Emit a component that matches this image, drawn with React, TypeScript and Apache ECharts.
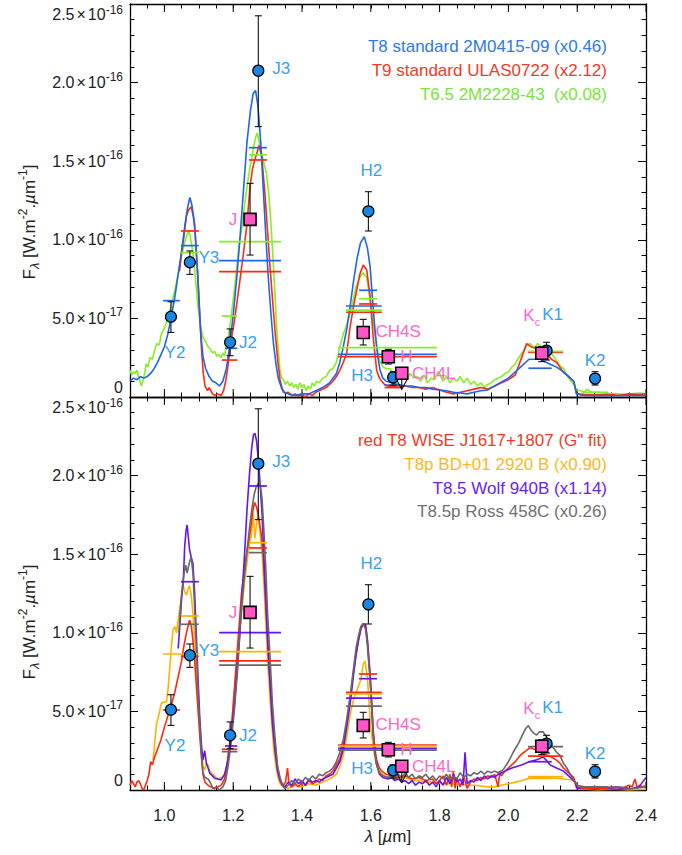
import React, { useEffect, useRef } from 'react';
import * as echarts from 'echarts';

// ---------- DATA (flux in units of 1e-16 W m^-2 um^-1, wavelength in um) ----------
const t8Std = [[0.90,0.10],[0.91,0.12],[0.92,0.11],[0.93,0.13],[0.94,0.12],[0.95,0.13],[0.96,0.15],[0.97,0.18],[0.98,0.22],[0.99,0.27],[1.00,0.32],[1.01,0.40],[1.02,0.51],[1.03,0.63],[1.04,0.78],[1.05,0.93],[1.06,1.10],[1.067,1.20],[1.074,1.27],[1.08,1.22],[1.088,1.10],[1.094,0.88],[1.10,0.64],[1.106,0.40],[1.112,0.26],[1.12,0.18],[1.13,0.13],[1.14,0.10],[1.15,0.09],[1.16,0.07],[1.17,0.10],[1.18,0.18],[1.185,0.25],[1.19,0.33],[1.20,0.52],[1.21,0.75],[1.22,1.02],[1.23,1.32],[1.24,1.62],[1.25,1.82],[1.258,1.93],[1.265,1.95],[1.272,1.85],[1.28,1.62],[1.288,1.30],[1.295,1.02],[1.302,0.76],[1.31,0.52],[1.317,0.34],[1.325,0.20],[1.331,0.12],[1.34,0.06],[1.346,0.03],[1.36,0.02],[1.38,0.01],[1.40,0.02],[1.42,0.02],[1.44,0.04],[1.46,0.06],[1.48,0.09],[1.50,0.15],[1.51,0.22],[1.52,0.32],[1.53,0.43],[1.54,0.58],[1.55,0.74],[1.56,0.88],[1.57,0.98],[1.581,1.02],[1.59,0.95],[1.598,0.83],[1.605,0.62],[1.612,0.43],[1.62,0.26],[1.627,0.17],[1.635,0.12],[1.645,0.10],[1.66,0.09],[1.68,0.08],[1.70,0.07],[1.72,0.07],[1.74,0.06],[1.76,0.06],[1.78,0.05],[1.80,0.045],[1.82,0.04],[1.84,0.03],[1.86,0.025],[1.88,0.02],[1.90,0.03],[1.92,0.04],[1.94,0.045],[1.96,0.07],[1.98,0.095],[2.00,0.12],[2.02,0.16],[2.04,0.20],[2.06,0.24],[2.08,0.24],[2.09,0.245],[2.10,0.23],[2.12,0.21],[2.14,0.19],[2.16,0.16],[2.18,0.12],[2.19,0.10],[2.198,0.02],[2.22,0.01],[2.25,0.01],[2.30,0.008],[2.35,0.01],[2.40,0.01]];

const t9Std = [[1.044,0.80],[1.05,0.92],[1.058,1.04],[1.064,1.15],[1.07,1.19],[1.078,1.21],[1.084,1.15],[1.089,1.05],[1.094,0.88],[1.098,0.74],[1.103,0.50],[1.108,0.30],[1.113,0.15],[1.118,0.07],[1.125,0.04],[1.13,0.06],[1.135,0.04],[1.14,0.02],[1.146,0.01],[1.155,0.02],[1.165,0.01],[1.172,0.04],[1.178,0.10],[1.185,0.20],[1.19,0.30],[1.197,0.40],[1.204,0.49],[1.212,0.62],[1.22,0.75],[1.229,0.90],[1.24,1.10],[1.249,1.34],[1.256,1.45],[1.263,1.51],[1.27,1.56],[1.275,1.60],[1.283,1.53],[1.292,1.30],[1.30,1.05],[1.307,0.83],[1.315,0.60],[1.322,0.41],[1.33,0.22],[1.336,0.11],[1.343,0.05],[1.351,0.025],[1.36,0.03],[1.37,0.01],[1.38,0.02],[1.39,0.005],[1.40,0.015],[1.41,0.0],[1.42,0.02],[1.43,0.01],[1.44,0.03],[1.45,0.04],[1.46,0.05],[1.47,0.06],[1.48,0.08],[1.49,0.10],[1.50,0.13],[1.51,0.17],[1.52,0.22],[1.53,0.28],[1.54,0.45],[1.55,0.58],[1.559,0.68],[1.568,0.78],[1.578,0.84],[1.588,0.81],[1.598,0.64],[1.607,0.38],[1.617,0.17],[1.625,0.12],[1.632,0.10],[1.64,0.08],[1.65,0.07],[1.66,0.065],[1.67,0.07],[1.68,0.06],[1.70,0.07],[1.72,0.06],[1.74,0.06],[1.76,0.05],[1.78,0.06],[1.80,0.045],[1.82,0.03],[1.84,0.02],[1.86,0.03],[1.88,0.04],[1.90,0.05],[1.92,0.06],[1.94,0.05],[1.96,0.07],[1.98,0.09],[2.00,0.11],[2.02,0.14],[2.04,0.26],[2.053,0.34],[2.065,0.32],[2.082,0.31],[2.095,0.29],[2.111,0.28],[2.125,0.24],[2.14,0.22],[2.159,0.16],[2.175,0.13],[2.19,0.10],[2.198,0.02],[2.22,0.015],[2.25,0.01],[2.28,0.01],[2.30,0.015],[2.32,0.01],[2.35,0.02],[2.38,0.015],[2.40,0.02]];

const t65 = [[0.90,0.17],[0.905,0.14],[0.91,0.16],[0.915,0.15],[0.92,0.17],[0.925,0.13],[0.93,0.09],[0.933,0.07],[0.94,0.12],[0.947,0.21],[0.952,0.19],[0.958,0.25],[0.965,0.24],[0.972,0.30],[0.978,0.34],[0.985,0.33],[0.991,0.40],[0.998,0.43],[1.004,0.46],[1.01,0.51],[1.02,0.58],[1.03,0.68],[1.04,0.78],[1.049,0.89],[1.057,0.97],[1.064,1.02],[1.071,1.06],[1.077,1.00],[1.083,0.91],[1.09,0.76],[1.098,0.57],[1.105,0.45],[1.112,0.38],[1.12,0.35],[1.127,0.32],[1.135,0.30],[1.14,0.28],[1.146,0.29],[1.152,0.26],[1.158,0.27],[1.165,0.25],[1.17,0.28],[1.175,0.26],[1.18,0.32],[1.187,0.40],[1.194,0.51],[1.20,0.62],[1.209,0.79],[1.216,0.95],[1.224,1.06],[1.232,1.20],[1.239,1.32],[1.248,1.45],[1.258,1.57],[1.265,1.65],[1.27,1.68],[1.276,1.62],[1.283,1.55],[1.29,1.48],[1.297,1.42],[1.302,1.32],[1.307,1.19],[1.312,1.02],[1.317,0.83],[1.322,0.64],[1.326,0.45],[1.331,0.30],[1.336,0.17],[1.341,0.12],[1.346,0.11],[1.352,0.08],[1.358,0.10],[1.364,0.07],[1.37,0.09],[1.376,0.06],[1.382,0.08],[1.388,0.05],[1.394,0.09],[1.40,0.06],[1.406,0.08],[1.412,0.04],[1.418,0.07],[1.424,0.05],[1.43,0.09],[1.436,0.07],[1.442,0.10],[1.45,0.09],[1.46,0.12],[1.47,0.13],[1.48,0.17],[1.49,0.18],[1.50,0.22],[1.51,0.32],[1.52,0.40],[1.53,0.46],[1.54,0.53],[1.55,0.63],[1.557,0.70],[1.564,0.74],[1.571,0.77],[1.578,0.79],[1.588,0.76],[1.595,0.66],[1.603,0.53],[1.61,0.43],[1.617,0.32],[1.626,0.23],[1.636,0.19],[1.646,0.18],[1.656,0.18],[1.665,0.15],[1.675,0.16],[1.685,0.12],[1.695,0.14],[1.705,0.11],[1.715,0.15],[1.725,0.12],[1.735,0.13],[1.745,0.10],[1.755,0.14],[1.765,0.09],[1.775,0.12],[1.785,0.11],[1.795,0.16],[1.80,0.15],[1.81,0.10],[1.82,0.13],[1.83,0.09],[1.84,0.12],[1.85,0.10],[1.86,0.13],[1.87,0.09],[1.88,0.12],[1.89,0.08],[1.90,0.10],[1.91,0.07],[1.92,0.09],[1.93,0.06],[1.94,0.08],[1.95,0.09],[1.96,0.11],[1.97,0.12],[1.98,0.13],[1.99,0.15],[2.00,0.16],[2.01,0.19],[2.02,0.21],[2.03,0.25],[2.043,0.29],[2.053,0.33],[2.063,0.34],[2.075,0.31],[2.085,0.34],[2.095,0.32],[2.105,0.33],[2.115,0.30],[2.125,0.28],[2.14,0.23],[2.15,0.20],[2.16,0.18],[2.17,0.14],[2.179,0.11],[2.19,0.08],[2.198,0.045],[2.21,0.04],[2.22,0.03],[2.23,0.05],[2.24,0.03],[2.26,0.03],[2.28,0.025],[2.30,0.02],[2.32,0.02],[2.34,0.015],[2.36,0.02],[2.38,0.025],[2.40,0.02]];

const wiseRed = [[0.90,0.03],[0.905,0.06],[0.91,0.04],[0.915,0.02],[0.92,0.05],[0.925,0.06],[0.93,0.04],[0.935,0.01],[0.94,0.0],[0.945,0.03],[0.95,0.06],[0.955,0.10],[0.96,0.18],[0.965,0.16],[0.97,0.20],[0.975,0.23],[0.98,0.26],[0.985,0.29],[0.99,0.32],[1.00,0.40],[1.01,0.47],[1.02,0.54],[1.03,0.62],[1.04,0.72],[1.049,0.81],[1.057,0.92],[1.064,1.00],[1.073,1.08],[1.078,1.05],[1.083,0.95],[1.088,0.82],[1.093,0.66],[1.098,0.50],[1.103,0.34],[1.108,0.20],[1.112,0.10],[1.118,0.05],[1.127,0.03],[1.135,0.02],[1.145,0.01],[1.155,0.02],[1.165,0.03],[1.175,0.07],[1.182,0.15],[1.19,0.28],[1.197,0.45],[1.204,0.66],[1.214,0.95],[1.224,1.25],[1.232,1.40],[1.24,1.52],[1.248,1.62],[1.256,1.76],[1.262,1.83],[1.268,1.80],[1.275,1.72],[1.282,1.62],[1.287,1.50],[1.293,1.25],[1.298,1.05],[1.304,0.80],[1.31,0.60],[1.316,0.42],[1.322,0.28],[1.328,0.16],[1.334,0.09],[1.34,0.05],[1.346,0.03],[1.352,0.05],[1.358,0.14],[1.362,0.04],[1.37,0.02],[1.38,0.04],[1.39,0.02],[1.40,0.05],[1.41,0.03],[1.42,0.06],[1.43,0.04],[1.44,0.05],[1.45,0.07],[1.46,0.06],[1.47,0.09],[1.48,0.10],[1.49,0.12],[1.50,0.16],[1.51,0.20],[1.52,0.28],[1.53,0.42],[1.54,0.58],[1.549,0.74],[1.557,0.86],[1.564,0.95],[1.571,1.02],[1.578,1.06],[1.585,1.05],[1.59,0.96],[1.598,0.74],[1.603,0.55],[1.607,0.38],[1.612,0.26],[1.617,0.19],[1.625,0.14],[1.632,0.12],[1.645,0.10],[1.66,0.09],[1.68,0.08],[1.70,0.09],[1.72,0.07],[1.74,0.08],[1.76,0.06],[1.78,0.07],[1.79,0.04],[1.80,0.06],[1.81,0.09],[1.82,0.03],[1.83,0.10],[1.835,0.02],[1.84,0.12],[1.845,0.01],[1.85,0.08],[1.86,0.02],[1.87,0.09],[1.88,0.01],[1.89,0.05],[1.90,0.07],[1.91,0.06],[1.92,0.08],[1.93,0.07],[1.94,0.09],[1.95,0.08],[1.96,0.10],[1.97,0.02],[1.975,0.11],[1.98,0.09],[1.99,0.12],[2.00,0.14],[2.01,0.16],[2.02,0.18],[2.034,0.22],[2.045,0.24],[2.063,0.27],[2.075,0.26],[2.09,0.24],[2.10,0.23],[2.115,0.22],[2.125,0.21],[2.14,0.19],[2.15,0.17],[2.16,0.14],[2.17,0.12],[2.179,0.10],[2.19,0.08],[2.198,0.02],[2.21,0.015],[2.23,0.02],[2.25,0.01],[2.27,0.02],[2.29,0.015],[2.31,0.02],[2.33,0.01],[2.35,0.03],[2.36,0.02],[2.368,0.07],[2.375,0.01],[2.38,0.03],[2.39,0.02],[2.40,0.03]];

const bdOrange = [[0.967,0.19],[0.972,0.30],[0.977,0.42],[0.981,0.45],[0.986,0.50],[0.991,0.55],[0.998,0.56],[1.006,0.56],[1.011,0.65],[1.015,0.76],[1.02,0.90],[1.025,1.02],[1.03,1.04],[1.035,1.00],[1.04,1.08],[1.044,1.145],[1.049,1.22],[1.054,1.31],[1.059,1.26],[1.064,1.24],[1.069,1.28],[1.073,1.30],[1.078,1.24],[1.083,1.12],[1.088,0.95],[1.093,0.76],[1.098,0.58],[1.103,0.40],[1.108,0.24],[1.112,0.15],[1.118,0.13],[1.122,0.17],[1.127,0.16],[1.132,0.12],[1.141,0.10],[1.15,0.08],[1.156,0.07],[1.165,0.08],[1.175,0.09],[1.18,0.14],[1.185,0.23],[1.19,0.32],[1.197,0.46],[1.204,0.64],[1.214,0.90],[1.224,1.12],[1.232,1.30],[1.24,1.45],[1.248,1.58],[1.253,1.62],[1.258,1.76],[1.263,1.60],[1.268,1.70],[1.273,1.76],[1.279,1.62],[1.285,1.48],[1.29,1.28],[1.295,1.05],[1.30,0.82],[1.307,0.58],[1.313,0.40],[1.318,0.25],[1.325,0.14],[1.33,0.08],[1.336,0.04],[1.345,0.02],[1.36,0.01],[1.38,0.03],[1.40,0.02],[1.42,0.04],[1.44,0.03],[1.46,0.05],[1.48,0.07],[1.50,0.10],[1.51,0.15],[1.52,0.22],[1.53,0.34],[1.54,0.48],[1.549,0.57],[1.557,0.62],[1.564,0.66],[1.571,0.70],[1.578,0.80],[1.583,0.82],[1.59,0.72],[1.595,0.55],[1.60,0.40],[1.607,0.27],[1.615,0.17],[1.625,0.12],[1.64,0.09],[1.66,0.08],[1.68,0.07],[1.70,0.08],[1.72,0.06],[1.74,0.06],[1.76,0.05],[1.78,0.05],[1.80,0.045],[1.82,0.04],[1.84,0.04],[1.86,0.035],[1.88,0.03],[1.90,0.03],[1.92,0.025],[1.94,0.02],[1.96,0.02],[1.98,0.03],[2.00,0.04],[2.02,0.05],[2.04,0.06],[2.06,0.075],[2.08,0.08],[2.10,0.08],[2.12,0.078],[2.14,0.075],[2.16,0.07],[2.18,0.065],[2.19,0.06],[2.198,0.01],[2.22,0.005],[2.26,0.0],[2.30,0.005],[2.35,0.0],[2.40,0.005]];

const wolfPurple = [[1.04,0.90],[1.045,1.05],[1.05,1.22],[1.055,1.33],[1.059,1.55],[1.063,1.65],[1.066,1.686],[1.07,1.60],[1.073,1.53],[1.078,1.48],[1.083,1.44],[1.088,1.25],[1.093,0.975],[1.098,0.70],[1.103,0.45],[1.108,0.28],[1.112,0.19],[1.117,0.25],[1.122,0.17],[1.127,0.14],[1.132,0.106],[1.14,0.09],[1.146,0.075],[1.155,0.07],[1.165,0.064],[1.175,0.10],[1.185,0.19],[1.194,0.36],[1.204,0.55],[1.212,0.78],[1.219,0.975],[1.226,1.25],[1.233,1.50],[1.24,1.78],[1.247,2.00],[1.254,2.18],[1.259,2.26],[1.263,2.27],[1.268,2.22],[1.273,2.10],[1.279,1.92],[1.284,1.75],[1.29,1.45],[1.295,1.20],[1.30,0.95],[1.307,0.68],[1.314,0.42],[1.322,0.24],[1.329,0.12],[1.336,0.06],[1.343,0.03],[1.35,0.02],[1.36,0.05],[1.37,0.03],[1.38,0.07],[1.39,0.04],[1.40,0.06],[1.41,0.03],[1.42,0.07],[1.43,0.05],[1.44,0.06],[1.45,0.05],[1.46,0.07],[1.47,0.08],[1.48,0.09],[1.49,0.10],[1.50,0.14],[1.51,0.18],[1.52,0.26],[1.53,0.40],[1.54,0.55],[1.549,0.72],[1.557,0.86],[1.564,0.95],[1.571,1.03],[1.578,1.06],[1.585,1.04],[1.59,0.95],[1.598,0.72],[1.603,0.52],[1.607,0.36],[1.612,0.24],[1.617,0.16],[1.625,0.10],[1.635,0.08],[1.65,0.07],[1.66,0.08],[1.67,0.06],[1.68,0.07],[1.69,0.05],[1.70,0.06],[1.71,0.04],[1.72,0.06],[1.73,0.03],[1.74,0.05],[1.75,0.04],[1.76,0.06],[1.77,0.03],[1.78,0.05],[1.79,0.02],[1.80,0.06],[1.81,0.03],[1.82,0.08],[1.83,0.04],[1.84,0.10],[1.85,0.05],[1.86,0.07],[1.868,0.03],[1.874,0.24],[1.88,0.04],[1.89,0.06],[1.90,0.05],[1.91,0.08],[1.92,0.06],[1.93,0.09],[1.94,0.07],[1.95,0.09],[1.96,0.08],[1.97,0.10],[1.98,0.11],[1.99,0.12],[2.00,0.13],[2.01,0.14],[2.024,0.15],[2.04,0.16],[2.06,0.18],[2.08,0.19],[2.101,0.21],[2.11,0.19],[2.121,0.16],[2.14,0.14],[2.16,0.12],[2.18,0.08],[2.194,0.05],[2.20,0.01],[2.22,0.01],[2.25,0.005],[2.28,0.01],[2.32,0.005],[2.36,0.01],[2.38,0.02],[2.39,0.05],[2.40,0.08]];

const rossGray = [[1.042,1.00],[1.048,1.20],[1.053,1.31],[1.058,1.39],[1.062,1.43],[1.066,1.38],[1.07,1.42],[1.074,1.46],[1.078,1.48],[1.083,1.38],[1.088,1.15],[1.093,0.91],[1.098,0.62],[1.103,0.40],[1.108,0.22],[1.112,0.11],[1.118,0.08],[1.127,0.07],[1.135,0.04],[1.141,0.01],[1.15,0.02],[1.16,0.0],[1.17,0.02],[1.178,0.06],[1.185,0.15],[1.194,0.30],[1.204,0.52],[1.214,0.80],[1.22,1.05],[1.23,1.30],[1.239,1.50],[1.247,1.66],[1.255,1.80],[1.261,1.88],[1.267,1.93],[1.276,1.96],[1.28,1.92],[1.284,1.85],[1.29,1.62],[1.295,1.40],[1.30,1.12],[1.307,0.85],[1.314,0.55],[1.322,0.32],[1.329,0.15],[1.336,0.08],[1.343,0.03],[1.35,0.01],[1.36,0.03],[1.37,0.06],[1.38,0.04],[1.39,0.07],[1.40,0.05],[1.41,0.08],[1.42,0.06],[1.43,0.09],[1.44,0.07],[1.45,0.10],[1.46,0.09],[1.47,0.11],[1.48,0.12],[1.49,0.14],[1.50,0.18],[1.51,0.24],[1.52,0.32],[1.53,0.45],[1.54,0.60],[1.549,0.76],[1.557,0.90],[1.564,0.98],[1.571,1.04],[1.578,1.06],[1.585,1.02],[1.59,0.92],[1.598,0.70],[1.603,0.50],[1.607,0.35],[1.612,0.23],[1.617,0.16],[1.625,0.11],[1.635,0.09],[1.65,0.08],[1.66,0.09],[1.67,0.07],[1.68,0.10],[1.69,0.08],[1.70,0.11],[1.71,0.08],[1.72,0.10],[1.73,0.07],[1.74,0.09],[1.75,0.08],[1.76,0.10],[1.77,0.07],[1.78,0.09],[1.79,0.06],[1.80,0.09],[1.81,0.07],[1.82,0.10],[1.83,0.06],[1.84,0.09],[1.85,0.07],[1.86,0.11],[1.87,0.08],[1.88,0.10],[1.89,0.09],[1.90,0.11],[1.91,0.10],[1.92,0.12],[1.93,0.10],[1.94,0.12],[1.95,0.11],[1.96,0.12],[1.97,0.11],[1.985,0.13],[2.00,0.18],[2.014,0.24],[2.03,0.30],[2.043,0.36],[2.05,0.39],[2.058,0.41],[2.066,0.38],[2.074,0.36],[2.082,0.35],[2.09,0.37],[2.101,0.37],[2.11,0.34],[2.121,0.30],[2.13,0.27],[2.14,0.24],[2.15,0.22],[2.16,0.17],[2.17,0.14],[2.18,0.10],[2.194,0.05],[2.20,0.03],[2.22,0.02],[2.25,0.02],[2.28,0.015],[2.32,0.02],[2.36,0.01],[2.40,0.02]];

// synthetic photometry bars: [lambda_start, lambda_end, flux]
const t8Bars = [[0.996,1.045,0.613],[1.048,1.100,0.963],[1.176,1.212,0.31],[1.159,1.339,0.867],[1.246,1.298,1.586],[1.566,1.618,0.679],[1.528,1.632,0.579],[1.505,1.792,0.271],[1.64,1.69,0.075],[2.058,2.126,0.183],[2.21,2.29,0.015]];
const t9Bars = [[1.048,1.100,1.056],[1.167,1.212,0.235],[1.159,1.339,0.797],[1.246,1.298,1.508],[1.566,1.618,0.592],[1.528,1.632,0.539],[1.505,1.792,0.256],[2.057,2.159,0.284],[1.64,1.69,0.06],[2.21,2.29,0.012]];
const t65Bars = [[1.048,1.100,0.918],[1.167,1.212,0.515],[1.159,1.339,0.988],[1.246,1.298,1.541],[1.566,1.618,0.625],[1.528,1.632,0.553],[1.505,1.792,0.314],[2.057,2.159,0.29],[2.215,2.29,0.03]];
const wiseBars = [[0.996,1.045,0.509],[1.048,1.100,0.85],[1.167,1.212,0.259],[1.159,1.339,0.821],[1.246,1.298,1.54],[1.566,1.618,0.738],[1.528,1.632,0.621],[1.505,1.792,0.286],[2.057,2.159,0.216],[2.21,2.29,0.01]];
const bdBars = [[0.996,1.100,0.865],[1.048,1.100,1.107],[1.176,1.212,0.343],[1.159,1.339,0.88],[1.246,1.298,1.573],[1.528,1.632,0.611],[1.505,1.792,0.28],[2.057,2.159,0.085],[2.058,2.126,0.074]];
const wolfBars = [[1.048,1.100,1.325],[1.176,1.212,0.28],[1.159,1.339,1.001],[1.246,1.298,1.934],[1.566,1.618,0.708],[1.528,1.632,0.585],[1.505,1.792,0.265],[2.058,2.126,0.18]];
const rossBars = [[1.048,1.100,1.054],[1.167,1.212,0.244],[1.159,1.339,0.795],[1.246,1.298,1.51],[1.528,1.632,0.534],[1.505,1.792,0.254],[2.057,2.159,0.276],[2.21,2.29,0.02]];

// observed photometry (blue circles)
const obsNames = ['Y2', 'Y3', 'J2', 'J3', 'H2', 'H3', 'K1', 'K2'];
const obsLam = [1.019, 1.074, 1.191, 1.273, 1.593, 1.665, 2.111, 2.252];
const obsFlux = [0.511, 0.857, 0.348, 2.076, 1.181, 0.125, 0.295, 0.117];
const obsLo = [0.411, 0.78, 0.263, 1.72, 1.056, 0.076, 0.235, 0.076];
const obsHi = [0.606, 0.929, 0.433, 2.425, 1.306, 0.16, 0.348, 0.161];

// observed photometry (pink squares)
const sqNames = ['J', 'CH4S', 'H', 'Kc'];
const sqLam = [1.249, 1.578, 1.651, 2.097];
const sqFlux = [1.13, 0.41, 0.256, 0.278];
const sqLo = [0.903, 0.331, 0.21, 0.225];
const sqHi = [1.359, 0.494, 0.303, 0.32];

// upper limit
const ulName = 'CH4L';
const ulLam = 1.69;
const ulFlux = 0.151;

const yTicks = [0, 0.5, 1.0, 1.5, 2.0, 2.5];
const xMajorTicks = [1.0, 1.2, 1.4, 1.6, 1.8, 2.0, 2.2, 2.4];

// ---------- STYLE ----------
const FONT = '"Liberation Sans", Arial, Helvetica, sans-serif';
const C = {
  blue: '#1f66e6', red: '#ff2a10', green: '#84ef22',
  orange: '#ffb300', purple: '#6414f0', gray: '#686868',
  pt: '#1a86e2', ptLabel: '#3a9ff0', sq: '#ff55c6', sqLabel: '#ff66cc',
};
const obsOffsets = [[4, 36], [19, -5], [18, 0], [23, -2], [3, -41], [-31, -2], [6, -36], [0, -18]];
const sqOffsets = [[-17, 0], [35, -1], [18, 0], [-10, -38]];
const ulOffset = [32, 0];

const isMajorX = (v: number) => Math.abs(v * 5 - Math.round(v * 5)) < 1e-6;

const fmtY = (v: number) => {
  if (Math.abs(v) < 1e-9) return '{z|0}';
  if (Math.abs(v - 2.5) < 1e-9) return '{t|2.5}{tx|×}{t|10}{ts|-16}';
  if (v < 0.99) return '{a|' + (v * 10).toFixed(1) + '}{x|×}{a|10}{s|-17}';
  return '{a|' + v.toFixed(1) + '}{x|×}{a|10}{s|-16}';
};
const yRich = {
  a: { fontSize: 16, fontFamily: FONT, color: '#222', verticalAlign: 'middle' },
  x: { fontSize: 16, fontFamily: FONT, color: '#222', padding: [0, 2, 0, 2], verticalAlign: 'middle' },
  s: { fontSize: 12, fontFamily: FONT, color: '#222', padding: [0, 0, 12, 0], verticalAlign: 'middle' },
  z: { fontSize: 16, fontFamily: FONT, color: '#222', padding: [0, 0, 20, 0], verticalAlign: 'middle' },
  t: { fontSize: 16, fontFamily: FONT, color: '#222', padding: [20, 0, 0, 0], verticalAlign: 'middle' },
  tx: { fontSize: 16, fontFamily: FONT, color: '#222', padding: [20, 2, 0, 2], verticalAlign: 'middle' },
  ts: { fontSize: 12, fontFamily: FONT, color: '#222', padding: [12, 0, 0, 0], verticalAlign: 'middle' },
};

const axisLine = { show: true, onZero: false, lineStyle: { color: '#000', width: 1.3 } };
const tickLine = { color: '#000', width: 1 };

const mkX = (gi: number, pos: string, showLabel: boolean) => ({
  type: 'value', gridIndex: gi, position: pos, min: 0.9, max: 2.4, interval: 0.05,
  axisLine, axisTick: { show: true, inside: true, length: 4.5, lineStyle: tickLine },
  axisLabel: {
    show: showLabel, margin: 17, fontSize: 16, fontFamily: FONT, color: '#222',
    formatter: (v: number) => (isMajorX(v) ? v.toFixed(1) : ''),
  },
  splitLine: { show: false },
});
const mkY = (gi: number, pos: string, showLabel: boolean) => ({
  type: 'value', gridIndex: gi, position: pos, min: 0, max: 2.5, interval: 0.5,
  axisLine, axisTick: { show: true, inside: true, length: 8, lineStyle: tickLine },
  minorTick: { show: true, splitNumber: 5, length: 4.5, lineStyle: tickLine },
  axisLabel: { show: showLabel, margin: 7, formatter: fmtY, rich: yRich },
  splitLine: { show: false }, minorSplitLine: { show: false },
});

const lineSeries = (data: number[][], color: string, ai: number) => ({
  type: 'line', xAxisIndex: ai, yAxisIndex: ai, data, showSymbol: false, symbol: 'none',
  lineStyle: { color, width: 1.6 }, z: 2, silent: true, animation: false,
});

const barSeries = (data: number[][], color: string, ai: number) => ({
  type: 'custom', xAxisIndex: ai, yAxisIndex: ai, z: 3, silent: true,
  encode: { x: [0, 1], y: 2 }, data,
  renderItem: (_p: any, api: any) => {
    const a = api.coord([api.value(0), api.value(2)]);
    const b = api.coord([api.value(1), api.value(2)]);
    return { type: 'line', shape: { x1: a[0], y1: a[1], x2: b[0], y2: b[1] }, style: { stroke: color, lineWidth: 1.7 } };
  },
});

const errSeries = (lam: number[], lo: number[], hi: number[], ai: number) => ({
  type: 'custom', xAxisIndex: ai, yAxisIndex: ai, z: 4, silent: true,
  encode: { x: 0, y: [1, 2] },
  data: lam.map((l, i) => [l, lo[i], hi[i]]),
  renderItem: (_p: any, api: any) => {
    const t = api.coord([api.value(0), api.value(2)]);
    const b = api.coord([api.value(0), api.value(1)]);
    const w = 3.5;
    const st = { stroke: '#111', lineWidth: 1.1 };
    return {
      type: 'group', children: [
        { type: 'line', shape: { x1: t[0], y1: t[1], x2: b[0], y2: b[1] }, style: st },
        { type: 'line', shape: { x1: t[0] - w, y1: t[1], x2: t[0] + w, y2: t[1] }, style: st },
        { type: 'line', shape: { x1: b[0] - w, y1: b[1], x2: b[0] + w, y2: b[1] }, style: st },
      ],
    };
  },
});

const ulSeries = (ai: number) => ({
  type: 'custom', xAxisIndex: ai, yAxisIndex: ai, z: 4, silent: true,
  data: [[ulLam, ulFlux]],
  renderItem: (_p: any, api: any) => {
    const p = api.coord([api.value(0), api.value(1)]);
    const tip = p[1] + 16;
    const st = { stroke: '#111', lineWidth: 1.1 };
    return {
      type: 'group', children: [
        { type: 'line', shape: { x1: p[0], y1: p[1], x2: p[0], y2: tip }, style: st },
        { type: 'polyline', shape: { points: [[p[0] - 6, tip - 11], [p[0], tip], [p[0] + 6, tip - 11]] }, style: { ...st, fill: null } },
      ],
    };
  },
});

const majorTickSeries = (ai: number) => ({
  type: 'custom', xAxisIndex: ai, yAxisIndex: ai, z: 1, silent: true,
  data: xMajorTicks.map((v) => [v]),
  renderItem: (_p: any, api: any) => {
    const b = api.coord([api.value(0), yTicks[0]]);
    const t = api.coord([api.value(0), yTicks[yTicks.length - 1]]);
    const st = { stroke: '#000', lineWidth: 1 };
    return {
      type: 'group', children: [
        { type: 'line', shape: { x1: b[0], y1: b[1], x2: b[0], y2: b[1] - 8 }, style: st },
        { type: 'line', shape: { x1: t[0], y1: t[1], x2: t[0], y2: t[1] + 8 }, style: st },
      ],
    };
  },
});

const pointSeries = (ai: number) => ({
  type: 'scatter', xAxisIndex: ai, yAxisIndex: ai, z: 5, silent: true,
  symbol: 'circle', symbolSize: 11,
  itemStyle: { color: C.pt, borderColor: '#000', borderWidth: 1.2, opacity: 1 },
  label: { show: true, position: 'inside', formatter: '{b}', color: C.ptLabel, fontSize: 17, fontFamily: FONT },
  data: obsLam.map((l, i) => ({ value: [l, obsFlux[i]], name: obsNames[i], label: { offset: obsOffsets[i] } })),
});

const squareSeries = (ai: number) => ({
  type: 'scatter', xAxisIndex: ai, yAxisIndex: ai, z: 6, silent: true,
  symbol: 'rect', symbolSize: 12,
  itemStyle: { color: C.sq, borderColor: '#000', borderWidth: 1.6, opacity: 1 },
  label: {
    show: true, position: 'inside', color: C.sqLabel, fontSize: 17, fontFamily: FONT,
    formatter: (p: any) => (p.name === 'Kc' ? '{m|K}{c|c}' : p.name),
    rich: {
      m: { fontSize: 17, fontFamily: FONT, color: C.sqLabel, verticalAlign: 'middle' },
      c: { fontSize: 11, fontFamily: FONT, color: C.sqLabel, padding: [13, 0, 0, 0], verticalAlign: 'middle' },
    },
  },
  data: [
    ...sqLam.map((l, i) => ({ value: [l, sqFlux[i]], name: sqNames[i], label: { offset: sqOffsets[i] } })),
    { value: [ulLam, ulFlux], name: ulName, label: { offset: ulOffset } },
  ],
});

const legendText = (x: number, y: number, text: string, color: string) => ({
  type: 'text', x, y, z: 10,
  style: { text, fill: color, font: '17px ' + FONT, align: 'right', verticalAlign: 'middle' },
});

const yTitle = (y: number) => ({
  type: 'text', x: 29, y, rotation: Math.PI / 2, z: 10,
  style: {
    text: '{a|F}{b|λ}{a| [W.m}{c|-2}{a|.}{i|µ}{a|m}{c|-1}{a|]}',
    align: 'center', verticalAlign: 'middle',
    rich: {
      a: { fontSize: 17, fontFamily: FONT, fill: '#222', verticalAlign: 'middle' },
      i: { fontSize: 17, fontFamily: FONT, fontStyle: 'italic', fill: '#222', verticalAlign: 'middle' },
      b: { fontSize: 13, fontFamily: FONT, fontStyle: 'italic', fill: '#222', padding: [10, 0, 0, 0], verticalAlign: 'middle' },
      c: { fontSize: 12, fontFamily: FONT, fill: '#222', padding: [0, 0, 12, 0], verticalAlign: 'middle' },
    },
  },
});

export default function App() {
  const ref = useRef<HTMLDivElement>(null);
  useEffect(() => {
    if (!ref.current) return;
    const chart = echarts.init(ref.current, null, { renderer: 'svg' });
    const option: any = {
      animation: false,
      backgroundColor: '#fff',
      grid: [
        { left: 130, top: 4, width: 516, height: 393 },
        { left: 130, top: 397, width: 516, height: 393 },
      ],
      xAxis: [mkX(0, 'bottom', false), mkX(1, 'bottom', true)],
      yAxis: [mkY(0, 'left', true), mkY(1, 'left', true)],
      series: [],
      graphic: [
        legendText(607, 46, 'T8 standard 2M0415-09 (x0.46)', '#2f78ea'),
        legendText(607, 70, 'T9 standard ULAS0722 (x2.12)', '#f23a26'),
        legendText(607, 94, 'T6.5 2M2228-43  (x0.08)', '#78e43a'),
        legendText(607, 440, 'red T8 WISE J1617+1807 (G" fit)', '#f23a26'),
        legendText(607, 464, 'T8p BD+01 2920 B (x0.90)', '#ffb820'),
        legendText(607, 488, 'T8.5 Wolf 940B (x1.14)', '#6a22ee'),
        legendText(607, 511, 'T8.5p Ross 458C (x0.26)', '#707070'),
        yTitle(222),
        yTitle(622),
        {
          type: 'text', x: 388, y: 836, z: 10,
          style: {
            text: '{i|λ}{a| [}{i|µ}{a|m]}', align: 'center', verticalAlign: 'middle',
            rich: {
              a: { fontSize: 17, fontFamily: FONT, fill: '#222' },
              i: { fontSize: 17, fontFamily: FONT, fontStyle: 'italic', fill: '#222' },
            },
          },
        },
      ],
    };
    // mirrored top / right axes (ticks only)
    option.xAxis.push(mkX(0, 'top', false), mkX(1, 'top', false));
    option.yAxis.push(mkY(0, 'right', false), mkY(1, 'right', false));

    option.series.push(
      lineSeries(t65, C.green, 0),
      lineSeries(t9Std, C.red, 0),
      lineSeries(t8Std, C.blue, 0),
      barSeries(t8Bars, C.blue, 0),
      barSeries(t9Bars, C.red, 0),
      barSeries(t65Bars, C.green, 0),
      majorTickSeries(0),
      errSeries(obsLam, obsLo, obsHi, 0),
      errSeries(sqLam, sqLo, sqHi, 0),
      ulSeries(0),
      pointSeries(0),
      squareSeries(0),

      lineSeries(bdOrange, C.orange, 1),
      lineSeries(wiseRed, C.red, 1),
      lineSeries(wolfPurple, C.purple, 1),
      lineSeries(rossGray, C.gray, 1),
      barSeries(wiseBars, C.red, 1),
      barSeries(bdBars, C.orange, 1),
      barSeries(wolfBars, C.purple, 1),
      barSeries(rossBars, C.gray, 1),
      majorTickSeries(1),
      errSeries(obsLam, obsLo, obsHi, 1),
      errSeries(sqLam, sqLo, sqHi, 1),
      ulSeries(1),
      pointSeries(1),
      squareSeries(1),
    );
    chart.setOption(option);
    return () => chart.dispose();
  }, []);
  return <div ref={ref} style={{ position: 'absolute', left: 0, top: 0, width: 682, height: 855, background: '#fff' }} />;
}
